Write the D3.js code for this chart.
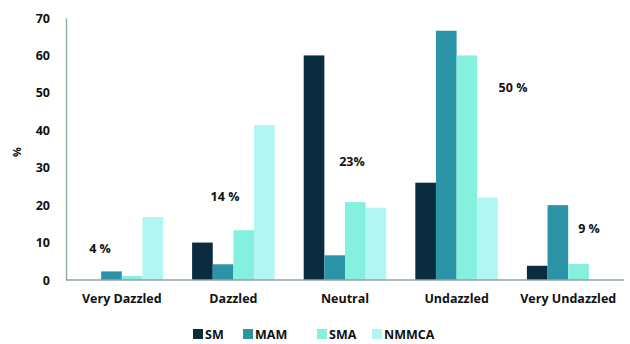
<!DOCTYPE html>
<html>
<head>
<meta charset="utf-8">
<script src="https://cdn.jsdelivr.net/npm/d3@7"></script>
<style>
  html, body { margin: 0; padding: 0; background: #fff; }
  text { font-family: "Open Sans", "Liberation Sans", Arial, sans-serif; font-weight: 700; fill: #111; }
</style>
</head>
<body>
<svg id="chart" width="630" height="344"></svg>
<script>
// Response categories and series
const categories = ["Very Dazzled", "Dazzled", "Neutral", "Undazzled", "Very Undazzled"];
const seriesNames = ["SM", "MAM", "SMA", "NMMCA"];
const SM    = [0, 10, 60, 26, 3.8];
const MAM   = [2.3, 4.2, 6.6, 66.6, 20];
const SMA   = [1.1, 13.3, 20.8, 60, 4.3];
const NMMCA = [16.8, 41.4, 19.3, 22, 0];
const yTicks = [0, 10, 20, 30, 40, 50, 60, 70];
// Overall share per category, written above each group
const shareLabels = ["4 %", "14 %", "23%", "50 %", "9 %"];

const colors = ["#0b2b40", "#2b95a7", "#86f0df", "#b2f6f4"];
const seriesValues = [SM, MAM, SMA, NMMCA];

const svg = d3.select("#chart");
const left = 66, right = 624;

const x = d3.scaleBand().domain(categories).range([left, right]).paddingInner(0.26).paddingOuter(0.13);
const xs = d3.scaleBand().domain(seriesNames).range([0, x.bandwidth()]);
const y = d3.scaleLinear().domain([0, 70]).range([280, 18]);

// bars
categories.forEach((c, i) => {
  const g = svg.append("g").attr("transform", `translate(${x(c)},0)`);
  g.selectAll("rect")
    .data(seriesNames.map((s, k) => ({ s, v: seriesValues[k][i], k })))
    .join("rect")
    .attr("x", d => xs(d.s))
    .attr("width", xs.bandwidth())
    .attr("y", d => y(d.v))
    .attr("height", d => y(0) - y(d.v))
    .attr("fill", d => colors[d.k]);
});

// axes
const axisColor = "#8ea3a8";
const yAxis = svg.append("g").attr("transform", `translate(${left},0)`)
  .call(d3.axisLeft(y).tickValues(yTicks).tickSize(0).tickPadding(16));
yAxis.select(".domain").attr("stroke", axisColor).attr("stroke-width", 1.3);
yAxis.selectAll("text").attr("font-size", 12.5);

const xAxis = svg.append("g").attr("transform", `translate(0,${y(0)})`)
  .call(d3.axisBottom(x).tickSize(0).tickPadding(14));
xAxis.select(".domain").attr("stroke", axisColor).attr("stroke-width", 1.3).attr("d", `M${left},0H${right}`);
xAxis.selectAll("text").attr("font-size", 12.5);

// y title
svg.append("text")
  .attr("transform", "translate(21,152) rotate(-90)")
  .attr("text-anchor", "middle")
  .attr("font-size", 11)
  .text("%");

// share annotations
const shareX = [100, 225, 352, 513, 589];
const shareY = [249, 197, 162, 88, 229];
shareLabels.forEach((t, i) => {
  svg.append("text")
    .attr("x", shareX[i]).attr("y", shareY[i])
    .attr("dy", "0.35em")
    .attr("text-anchor", "middle")
    .attr("font-size", 12.5)
    .text(t);
});

// legend
const legendX = [193, 243, 317, 372];
const leg = svg.append("g");
seriesNames.forEach((s, k) => {
  leg.append("rect").attr("x", legendX[k]).attr("y", 329).attr("width", 10).attr("height", 10).attr("fill", colors[k]);
  leg.append("text").attr("x", legendX[k] + 12).attr("y", 334).attr("dy", "0.36em")
    .attr("font-size", 12.5).text(s);
});
</script>
</body>
</html>
